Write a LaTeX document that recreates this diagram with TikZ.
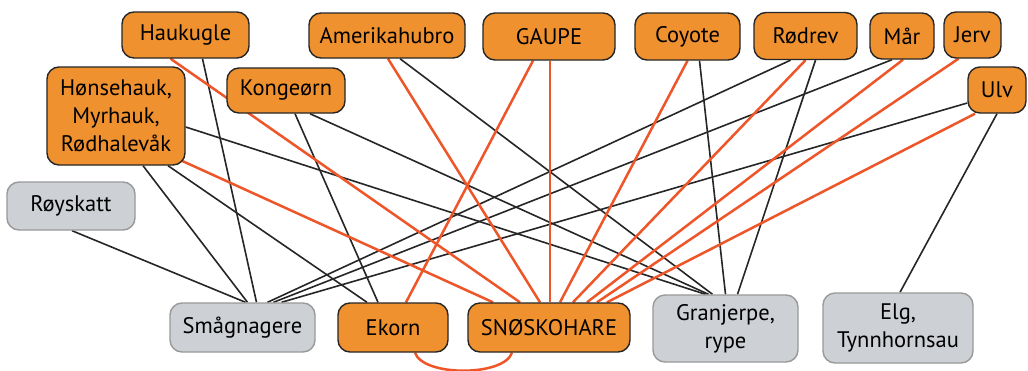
\documentclass[tikz,border=0pt]{standalone}
\usepackage{fontspec}
\setmainfont{PT Sans}
\usetikzlibrary{calc,backgrounds}
\definecolor{orfill}{HTML}{F0912F}
\definecolor{redline}{HTML}{EE5528}
\definecolor{grfill}{HTML}{CDD0D4}
\begin{document}
\begin{tikzpicture}[x=1pt,y=-1pt,
  box/.style={rectangle, rounded corners=12pt, line width=1.4pt, inner sep=0pt, align=center, font=\fontsize{22.5}{28}\selectfont},
  pred/.style={box, fill=orfill, draw=black!85},
  prey/.style={box, fill=grfill, draw=black!40},
  blk/.style={line width=1.6pt, draw=black!85},
  rl/.style={line width=2.5pt, draw=redline}]
\useasboundingbox (0,0) rectangle (1028,370);
% predators
\node[pred, minimum width=127, minimum height=46] (hauk) at (185.5,35) {Haukugle};
\node[pred, minimum width=156, minimum height=45] (amer) at (387,35.5) {Amerikahubro};
\node[pred, minimum width=132, minimum height=47] (gaupe) at (549,36.5) {GAUPE};
\node[pred, minimum width=105, minimum height=47] (coy) at (687.5,36.5) {Coyote};
\node[pred, minimum width=103, minimum height=47] (rod) at (805.5,36) {Rødrev};
\node[pred, minimum width=64, minimum height=46] (mar) at (902,36) {Mår};
\node[pred, minimum width=57, minimum height=46] (jerv) at (972.5,35) {Jerv};
\node[pred, minimum width=58, minimum height=46] (ulv) at (997,90) {Ulv};
\node[pred, minimum width=138, minimum height=98] (hons) at (116,116) {Hønsehauk,\\Myrhauk,\\Rødhalevåk};
\node[pred, minimum width=118, minimum height=45] (kong) at (286,90.5) {Kongeørn};
% prey
\node[prey, minimum width=128, minimum height=48] (roy) at (71,206) {Røyskatt};
\node[prey, minimum width=145, minimum height=49] (smag) at (242.5,327.5) {Smågnagere};
\node[pred, minimum width=110, minimum height=49] (ekorn) at (393,327.5) {Ekorn};
\node[pred, minimum width=162, minimum height=49] (snow) at (549,327.5) {SNØSKOHARE};
\node[prey, minimum width=145, minimum height=67] (gran) at (725.5,328.5) {Granjerpe,\\rype};
\node[prey, minimum width=150, minimum height=70] (elg) at (898,328) {Elg,\\Tynnhornsau};
\coordinate (arcA) at ($(ekorn.south)+(22,0)$);
\coordinate (arcB) at ($(snow.south)+(-37,0)$);
\begin{scope}[on background layer]
\fill[white] (0,0) rectangle (1028,370);
% black links
\draw[blk] ($(hauk.south)+(17,0)$) -- ($(smag.north)+(14,0)$);
\draw[blk] ($(hons.south)+(27,0)$) -- ($(smag.north)+(5,0)$);
\draw[blk] ($(hons.south)+(52,0)$) -- ($(ekorn.north)+(-26,0)$);
\draw[blk] ($(hons.east)+(0,11)$) -- ($(gran.north)+(-20,0)$);
\draw[blk] ($(kong.south)+(9,0)$) -- ($(ekorn.north)+(-15,0)$);
\draw[blk] ($(kong.south)+(24,0)$) -- ($(gran.north)+(-17,0)$);
\draw[blk] ($(amer.south)+(13,0)$) -- ($(gran.north)+(-13,0)$);
\draw[blk] ($(coy.south)+(12,0)$) -- ($(gran.north)+(0,0)$);
\draw[blk] ($(rod.south)+(-15,0)$) -- ($(smag.north)+(25,0)$);
\draw[blk] ($(rod.south)+(10,0)$) -- ($(gran.north)+(12,0)$);
\draw[blk] ($(mar.south)+(-10,0)$) -- ($(smag.north)+(31,0)$);
\draw[blk] ($(ulv.west)+(0,13)$) -- ($(smag.north)+(39,0)$);
\draw[blk] ($(ulv.south)+(0,0)$) -- ($(elg.north)+(2,0)$);
\draw[blk] ($(roy.south)+(1,0)$) -- ($(smag.north)+(3,0)$);
% red links
\draw[rl] ($(hons.south east)+(-4,-5)$) -- ($(snow.north)+(-56,0)$);
\draw[rl] ($(hauk.south)+(-15,0)$) -- ($(snow.north)+(-29,0)$);
\draw[rl] ($(amer.south)+(1,0)$) -- ($(snow.north)+(-9,0)$);
\draw[rl] ($(gaupe.south)+(1,0)$) -- ($(snow.north)+(1,0)$);
\draw[rl] ($(gaupe.south)+(-16,0)$) -- ($(ekorn.north)+(13,0)$);
\draw[rl] ($(coy.south)+(0,0)$) -- ($(snow.north)+(11,0)$);
\draw[rl] ($(rod.south)+(0,0)$) -- ($(snow.north)+(24,0)$);
\draw[rl] ($(mar.south)+(1,0)$) -- ($(snow.north)+(38,0)$);
\draw[rl] ($(jerv.south)+(-14,0)$) -- ($(snow.north)+(48,0)$);
\draw[rl] ($(ulv.south)+(-22,0)$) -- ($(snow.north)+(58,0)$);
\draw[rl] (arcA) .. controls ($(arcA)+(8,24)$) and ($(arcB)+(-8,24)$) .. (arcB);
\end{scope}
\end{tikzpicture}
\end{document}
